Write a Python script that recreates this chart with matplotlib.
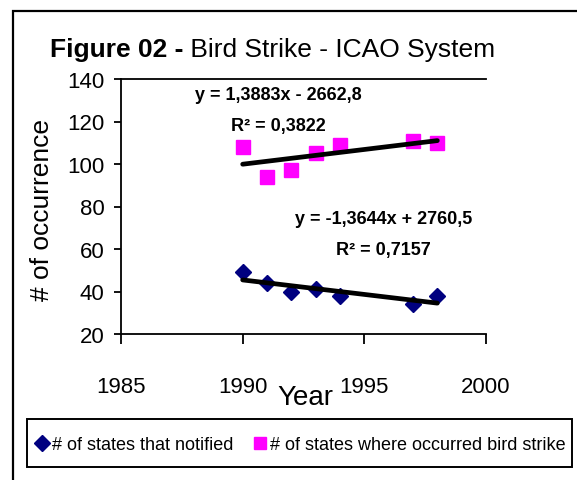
import numpy as np
import matplotlib
matplotlib.use("Agg")
import matplotlib.pyplot as plt
from matplotlib.patches import Rectangle

# ---- data ----
years = [1990, 1991, 1992, 1993, 1994, 1997, 1998]
states_notified = [49, 44, 40, 41, 38, 34, 38]
states_occurred = [108, 94, 97, 105, 109, 111, 110]
xticks = [1985, 1990, 1995, 2000]
yticks = [20, 40, 60, 80, 100, 120, 140]
eq_occurred = ["y = 1,3883x - 2662,8", "R² = 0,3822"]
eq_notified = ["y = -1,3644x + 2760,5", "R² = 0,7157"]
label_notified = "# of states that notified"
label_occurred = "# of states where occurred bird strike"

FONT = ['Liberation Sans Narrow', 'Liberation Sans', 'DejaVu Sans']
plt.rcParams['font.family'] = FONT

W, H = 577, 481
fig = plt.figure(figsize=(W / 100, H / 100), dpi=100)

def fx(px):
    return px / W

def fy(py):
    return 1 - py / H

# outer frame
fig.patches.append(Rectangle((fx(13), fy(600)), fx(700), fy(12) - fy(600),
                             transform=fig.transFigure, fill=False,
                             edgecolor='black', linewidth=1.6))

ax = fig.add_axes([fx(121), fy(335), fx(486) - fx(121), fy(80) - fy(335)])
ax.set_xlim(1985, 2000)
ax.set_ylim(20, 140)
ax.set_xticks(xticks)
ax.set_yticks(yticks)
for s in ['left', 'bottom', 'top']:
    ax.spines[s].set_linewidth(1.3)
ax.spines['right'].set_visible(False)
ax.tick_params(axis='x', direction='out', length=7, width=1.3, labelsize=16, pad=23)
ax.tick_params(axis='y', direction='out', length=5, width=1.3, labelsize=16, pad=7)

ax.plot(years, states_notified, linestyle='none', marker='D', color='#000080',
        markersize=8.5, label=label_notified, zorder=3)
ax.plot(years, states_occurred, linestyle='none', marker='s', color='#FF00FF',
        markersize=9.5, label=label_occurred, zorder=3)

# linear trendlines
xs = np.array([years[0], years[-1]], dtype=float)
for vals in (states_notified, states_occurred):
    p = np.polyfit(years, vals, 1)
    ax.plot(xs, np.polyval(p, xs), color='black', linewidth=3.4,
            solid_capstyle='round', zorder=4)

# equations
ax.text(fx(278), fy(96), eq_occurred[0], transform=fig.transFigure,
        ha='center', va='center', fontsize=13, fontweight='bold')
ax.text(fx(278), fy(127), eq_occurred[1], transform=fig.transFigure,
        ha='center', va='center', fontsize=13, fontweight='bold')
ax.text(fx(384), fy(220), eq_notified[0], transform=fig.transFigure,
        ha='center', va='center', fontsize=13, fontweight='bold')
ax.text(fx(383), fy(250), eq_notified[1], transform=fig.transFigure,
        ha='center', va='center', fontsize=13, fontweight='bold')

ax.set_ylabel("# of occurrence", fontsize=19, va='center')
ax.yaxis.set_label_coords(fx(42), fy(210), transform=fig.transFigure)
fig.text(fx(305), fy(398), "Year", ha='center', va='center', fontsize=20)

# title
t1 = fig.text(fx(50), fy(57), "Figure 02 -", ha='left', va='baseline',
              fontsize=19, fontweight='bold')
ax.annotate(" Bird Strike - ICAO System", xy=(1, 0), xycoords=t1,
            ha='left', va='bottom', fontsize=19, annotation_clip=False)

# legend
frame = Rectangle((fx(27), fy(468)), fx(572) - fx(27), fy(420) - fy(468),
                  transform=fig.transFigure, fill=False, edgecolor='black',
                  linewidth=1.4)
fig.patches.append(frame)
fig.legend(loc='center', bbox_to_anchor=(fx(301), fy(446)),
           ncol=2, frameon=False, fontsize=13, handlelength=0.6,
           handletextpad=0.25, columnspacing=1.2, markerscale=0.9)

fig.savefig("out.png", dpi=100)
